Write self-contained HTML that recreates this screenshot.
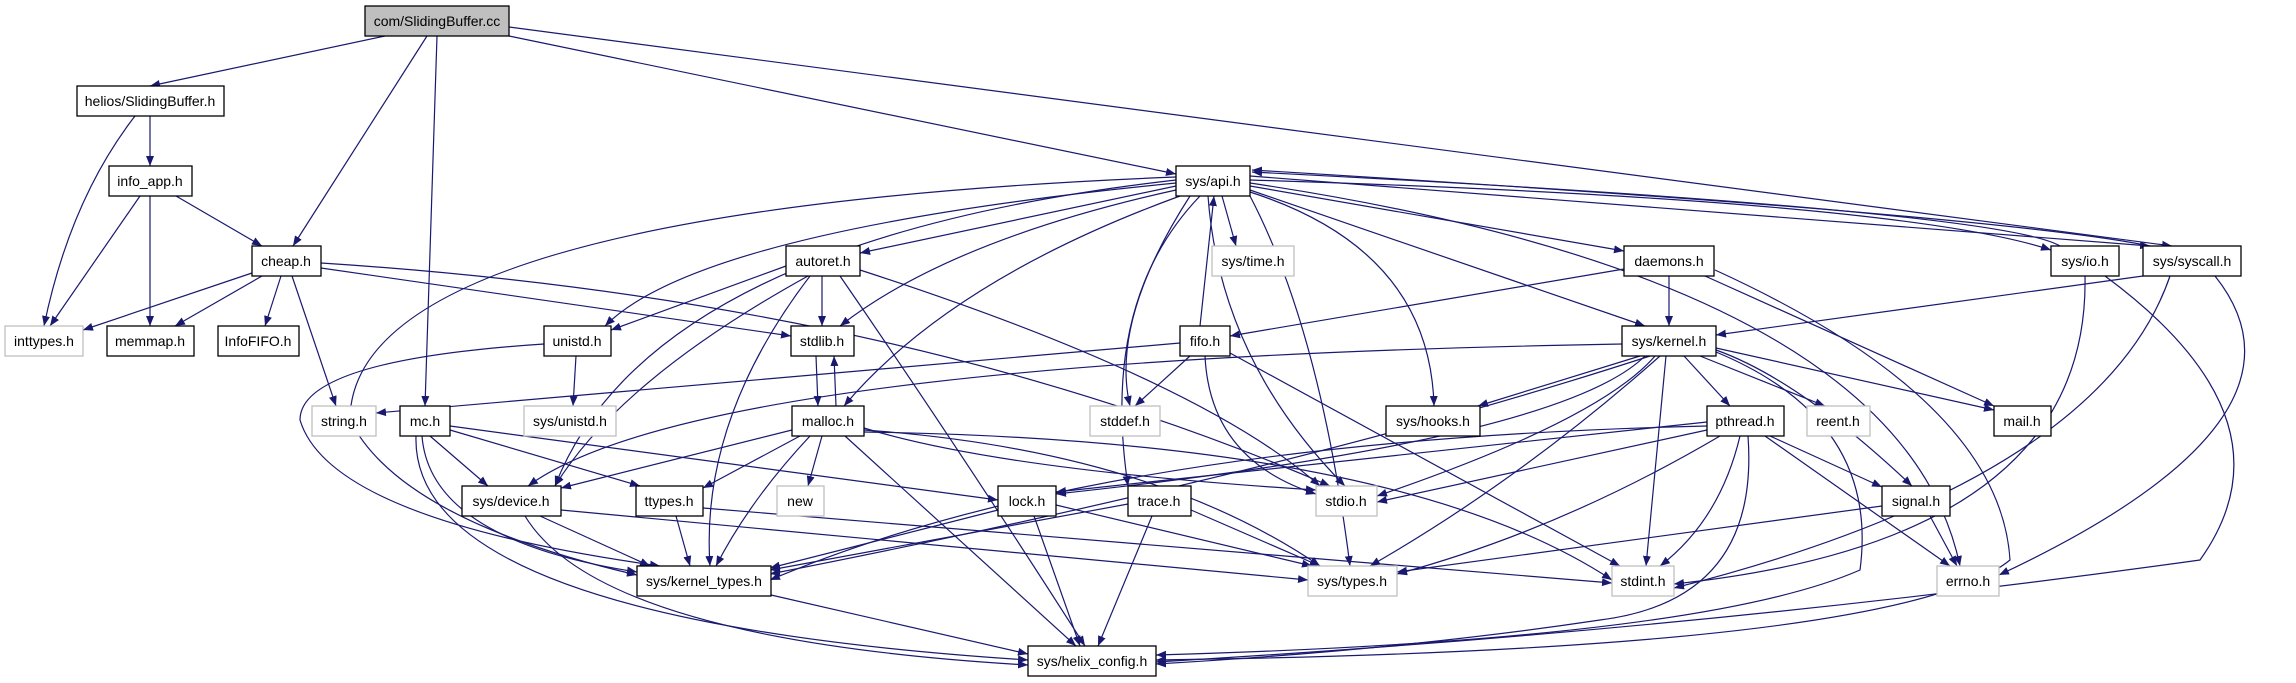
<!DOCTYPE html>
<html><head><meta charset="utf-8"><style>
html,body{margin:0;padding:0;background:#fff;}
svg{display:block;}
text{font-family:"Liberation Sans",Arial,sans-serif;font-size:14px;fill:#000;text-anchor:middle;}
.e{fill:none;stroke:#191970;stroke-width:1.2;marker-end:url(#a);}
.n{fill:#fff;stroke:#000;stroke-width:1.3;}
.g{fill:#fff;stroke:#bfbfbf;stroke-width:1.3;}
</style></head><body>
<svg width="2296" height="683" viewBox="0 0 2296 683" xmlns="http://www.w3.org/2000/svg">
<defs><marker id="a" viewBox="0 0 10 8" refX="10" refY="4" markerWidth="10" markerHeight="8" markerUnits="userSpaceOnUse" orient="auto"><path d="M0,0 L10,4 L0,8 z" fill="#191970"/></marker></defs>
<g>
<!-- SB.cc -->
<path class="e" d="M385,36 L150,86"/>
<path class="e" d="M427,36 L293,246"/>
<path class="e" d="M437,36 L425,406"/>
<path class="e" d="M509,36 L1176,174"/>
<path class="e" d="M509,27 L2172,246"/>
<!-- helios -->
<path class="e" d="M150,116 L150,166"/>
<path class="e" d="M135,116 Q70,200 44,326"/>
<!-- info_app -->
<path class="e" d="M176,196 L262,246"/>
<path class="e" d="M140,196 L50,326"/>
<path class="e" d="M150,196 L150,326"/>
<!-- cheap -->
<path class="e" d="M252,273 L83,330"/>
<path class="e" d="M262,276 L175,326"/>
<path class="e" d="M281,276 L265,326"/>
<path class="e" d="M292,276 L336,406"/>
<path class="e" d="M321,268 L791,336"/>
<path class="e" d="M321,263 Q900,300 1330,486"/>
<!-- api -->
<path class="e" d="M1176,186 L860,253"/>
<path class="e" d="M1176,190 Q950,240 840,326"/>
<path class="e" d="M1180,196 Q950,280 844,406"/>
<path class="e" d="M1176,183 Q700,230 605,326"/>
<path class="e" d="M1176,180 Q650,240 555,486"/>
<path class="e" d="M1176,177 Q350,210 350,420 Q400,520 637,575"/>
<path class="e" d="M1222,196 L1236,246"/>
<path class="e" d="M1190,196 Q1110,320 1130,406"/>
<path class="e" d="M1208,196 Q1220,360 1345,486"/>
<path class="e" d="M1250,196 Q1320,330 1350,566"/>
<path class="e" d="M1250,192 Q1430,250 1434,406"/>
<path class="e" d="M1250,186 L1624,251"/>
<path class="e" d="M1250,190 L1645,326"/>
<path class="e" d="M1250,180 Q1900,200 2051,250"/>
<path class="e" d="M1250,176 L2150,246"/>
<path class="e" d="M1200,196 Q1100,300 1128,486"/>
<path class="e" d="M1250,183 Q1900,280 1960,566"/>
<!-- io / syscall back to api -->
<path class="e" d="M2060,246 Q2000,210 1252,172"/>
<path class="e" d="M2150,246 Q2000,215 1252,170"/>
<path class="e" d="M2085,276 Q2090,540 1674,584"/>
<path class="e" d="M2105,276 Q2300,420 2200,560 Q1700,630 1156,662"/>
<path class="e" d="M2143,276 L1716,335"/>
<path class="e" d="M2170,276 Q2100,480 1674,588"/>
<path class="e" d="M2215,276 Q2330,420 1999,575"/>
<!-- autoret -->
<path class="e" d="M786,266 L611,330"/>
<path class="e" d="M822,276 L822,326"/>
<path class="e" d="M808,276 Q620,380 555,486"/>
<path class="e" d="M810,276 Q700,420 710,566"/>
<path class="e" d="M840,276 Q960,450 1085,646"/>
<path class="e" d="M860,270 Q1200,380 1320,486"/>
<!-- daemons -->
<path class="e" d="M1624,269 L1230,336"/>
<path class="e" d="M1669,276 L1669,326"/>
<path class="e" d="M1705,276 L1994,406"/>
<path class="e" d="M1715,270 Q2000,400 2010,560 Q1900,650 1156,660"/>
<!-- unistd -->
<path class="e" d="M576,356 L573,406"/>
<path class="e" d="M544,344 Q300,360 300,420 Q330,520 660,566"/>
<!-- stdlib/malloc -->
<path class="e" d="M816,356 L818,406"/>
<path class="e" d="M836,406 L834,356"/>
<!-- fifo -->
<path class="e" d="M1200,326 L1214,196"/>
<path class="e" d="M1180,343 L376,413"/>
<path class="e" d="M1190,356 L1135,406"/>
<path class="e" d="M1205,356 Q1210,460 1316,494"/>
<path class="e" d="M1230,353 L1620,566"/>
<!-- sys/kernel -->
<path class="e" d="M1640,356 L1478,406"/>
<path class="e" d="M1622,344 Q700,360 528,486"/>
<path class="e" d="M1645,356 Q1560,440 1056,494"/>
<path class="e" d="M1655,356 Q1600,420 1377,496"/>
<path class="e" d="M1660,356 Q1520,480 1370,566"/>
<path class="e" d="M1666,356 L1646,566"/>
<path class="e" d="M1684,356 L1730,406"/>
<path class="e" d="M1700,356 L1825,406"/>
<path class="e" d="M1716,350 Q1800,380 1912,486"/>
<path class="e" d="M1716,348 L1994,410"/>
<path class="e" d="M1716,352 Q1880,420 1860,570 Q1700,640 1156,655"/>
<path class="e" d="M1650,356 Q1300,470 770,574"/>
<!-- mc -->
<path class="e" d="M430,436 L488,486"/>
<path class="e" d="M450,430 L640,486"/>
<path class="e" d="M450,426 L998,500"/>
<path class="e" d="M422,436 Q430,540 637,572"/>
<path class="e" d="M416,436 Q410,620 1028,660"/>
<!-- malloc -->
<path class="e" d="M792,430 L561,488"/>
<path class="e" d="M800,436 L703,488"/>
<path class="e" d="M822,436 L808,486"/>
<path class="e" d="M810,436 Q750,500 716,566"/>
<path class="e" d="M845,436 L1076,646"/>
<path class="e" d="M864,430 Q1150,450 1320,566"/>
<path class="e" d="M864,428 Q1000,470 1316,490"/>
<path class="e" d="M864,432 Q1400,440 1612,580"/>
<!-- pthread -->
<path class="e" d="M1707,422 L1056,492"/>
<path class="e" d="M1707,430 L1377,502"/>
<path class="e" d="M1720,436 Q1560,530 1397,574"/>
<path class="e" d="M1740,436 Q1720,520 1660,566"/>
<path class="e" d="M1770,436 L1882,487"/>
<path class="e" d="M1765,436 L1950,566"/>
<path class="e" d="M1748,436 Q1760,600 1600,620 Q1400,650 1156,664"/>
<path class="e" d="M1707,426 Q1100,440 770,580"/>
<!-- device -->
<path class="e" d="M540,516 L650,566"/>
<path class="e" d="M525,516 Q600,640 1028,665"/>
<path class="e" d="M561,510 L1308,580"/>
<!-- ttypes -->
<path class="e" d="M676,516 L690,566"/>
<path class="e" d="M703,508 L1612,583"/>
<!-- lock -->
<path class="e" d="M998,510 L770,568"/>
<path class="e" d="M1034,516 L1080,646"/>
<path class="e" d="M1056,505 L1312,566"/>
<!-- trace -->
<path class="e" d="M1128,504 L770,570"/>
<path class="e" d="M1191,510 L1320,566"/>
<path class="e" d="M1152,516 L1098,646"/>
<!-- signal -->
<path class="e" d="M1882,506 L1397,572"/>
<path class="e" d="M1930,516 L1957,566"/>
<!-- kernel_types -->
<path class="e" d="M771,595 L1028,654"/>
</g>
<g>
<rect x="365" y="6" width="144" height="30" fill="#bfbfbf" stroke="#000" stroke-width="1.3"/><text x="437" y="26">com/SlidingBuffer.cc</text>
<rect class="n" x="77" y="86" width="147" height="30"/><text x="150" y="106">helios/SlidingBuffer.h</text>
<rect class="n" x="109" y="166" width="83" height="30"/><text x="150" y="186">info_app.h</text>
<rect class="n" x="252" y="246" width="69" height="30"/><text x="286" y="266">cheap.h</text>
<rect class="n" x="1176" y="166" width="74" height="30"/><text x="1213" y="186">sys/api.h</text>
<rect class="g" x="1212" y="246" width="82" height="30"/><text x="1253" y="266">sys/time.h</text>
<rect class="n" x="786" y="246" width="74" height="30"/><text x="823" y="266">autoret.h</text>
<rect class="n" x="1624" y="246" width="90" height="30"/><text x="1669" y="266">daemons.h</text>
<rect class="n" x="2051" y="246" width="68" height="30"/><text x="2085" y="266">sys/io.h</text>
<rect class="n" x="2143" y="246" width="98" height="30"/><text x="2192" y="266">sys/syscall.h</text>
<rect class="g" x="5" y="326" width="78" height="30"/><text x="44" y="346">inttypes.h</text>
<rect class="n" x="107" y="326" width="87" height="30"/><text x="150" y="346">memmap.h</text>
<rect class="n" x="218" y="326" width="81" height="30"/><text x="258" y="346">InfoFIFO.h</text>
<rect class="n" x="544" y="326" width="67" height="30"/><text x="577" y="346">unistd.h</text>
<rect class="n" x="791" y="326" width="63" height="30"/><text x="822" y="346">stdlib.h</text>
<rect class="n" x="1180" y="326" width="50" height="30"/><text x="1205" y="346">fifo.h</text>
<rect class="n" x="1622" y="326" width="94" height="30"/><text x="1669" y="346">sys/kernel.h</text>
<rect class="g" x="312" y="406" width="64" height="30"/><text x="344" y="426">string.h</text>
<rect class="n" x="400" y="406" width="50" height="30"/><text x="425" y="426">mc.h</text>
<rect class="g" x="524" y="406" width="92" height="30"/><text x="570" y="426">sys/unistd.h</text>
<rect class="n" x="792" y="406" width="72" height="30"/><text x="828" y="426">malloc.h</text>
<rect class="g" x="1090" y="406" width="70" height="30"/><text x="1125" y="426">stddef.h</text>
<rect class="n" x="1386" y="406" width="94" height="30"/><text x="1433" y="426">sys/hooks.h</text>
<rect class="n" x="1707" y="406" width="77" height="30"/><text x="1745" y="426">pthread.h</text>
<rect class="g" x="1807" y="406" width="63" height="30"/><text x="1838" y="426">reent.h</text>
<rect class="n" x="1994" y="406" width="57" height="30"/><text x="2022" y="426">mail.h</text>
<rect class="n" x="462" y="486" width="99" height="30"/><text x="511" y="506">sys/device.h</text>
<rect class="n" x="636" y="486" width="67" height="30"/><text x="669" y="506">ttypes.h</text>
<rect class="g" x="777" y="486" width="47" height="30"/><text x="800" y="506">new</text>
<rect class="n" x="998" y="486" width="58" height="30"/><text x="1027" y="506">lock.h</text>
<rect class="n" x="1128" y="486" width="63" height="30"/><text x="1159" y="506">trace.h</text>
<rect class="g" x="1316" y="486" width="61" height="30"/><text x="1346" y="506">stdio.h</text>
<rect class="n" x="1882" y="486" width="68" height="30"/><text x="1916" y="506">signal.h</text>
<rect class="n" x="637" y="566" width="134" height="30"/><text x="704" y="586">sys/kernel_types.h</text>
<rect class="g" x="1308" y="566" width="89" height="30"/><text x="1352" y="586">sys/types.h</text>
<rect class="g" x="1612" y="566" width="62" height="30"/><text x="1643" y="586">stdint.h</text>
<rect class="g" x="1937" y="566" width="62" height="30"/><text x="1968" y="586">errno.h</text>
<rect class="n" x="1028" y="646" width="128" height="30"/><text x="1092" y="666">sys/helix_config.h</text>
</g>
</svg>
</body></html>
